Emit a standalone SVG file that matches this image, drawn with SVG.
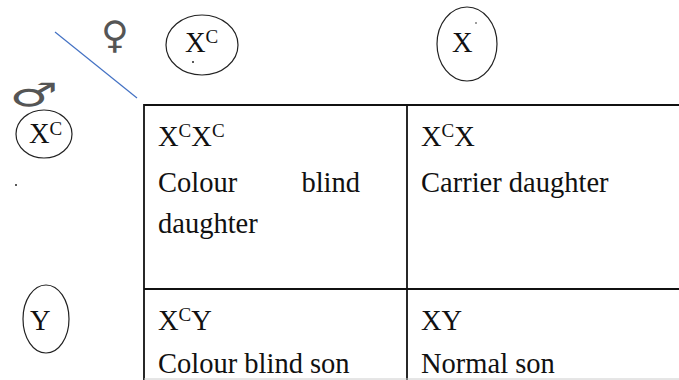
<svg xmlns="http://www.w3.org/2000/svg" width="679" height="380" viewBox="0 0 679 380">
<style>
.t{font-size:28.5px;fill:#111}
.s{font-size:19px}
.g{fill:none;stroke:#222;stroke-width:1.2}
.ln{stroke:#111;stroke-width:1.8;fill:none}
.sym{font-family:"DejaVu Sans",sans-serif;fill:#555}
</style>
<rect width="679" height="380" fill="#fff"/>
<g id="connectors">
<line x1="55" y1="32" x2="137" y2="98" stroke="#4472C4" stroke-width="1.2"/>
</g>
<g id="symbols">
<text class="sym" x="115" y="48" font-size="38" text-anchor="middle">♀</text>
<text class="sym" transform="translate(34,106) scale(1.5,0.9)" font-size="36" text-anchor="middle">♂</text>
</g>
<g font-family="Liberation Serif, DejaVu Serif, serif">
<g id="mother-Xc">
<ellipse class="g" cx="202" cy="45" rx="36" ry="30"/>
<text class="t" x="185" y="52">X<tspan class="s" dy="-9">C</tspan></text>
<circle cx="193" cy="62" r="1" fill="#222"/>
</g>
<g id="mother-X">
<ellipse class="g" cx="467" cy="44" rx="30" ry="37"/>
<text class="t" x="452" y="52">X</text>
<circle cx="476" cy="23" r="0.8" fill="#222"/>
</g>
<g id="father-Xc">
<ellipse class="g" cx="44" cy="134" rx="28" ry="24"/>
<text class="t" x="29" y="143">X<tspan class="s" dy="-8">C</tspan></text>
<circle cx="16" cy="185" r="1" fill="#222"/>
</g>
<g id="father-Y">
<ellipse class="g" cx="46" cy="319" rx="23" ry="34"/>
<text class="t" x="30" y="330">Y</text>
</g>
<g id="grid">
<line class="ln" x1="144" y1="105" x2="679" y2="105"/>
<line class="ln" x1="144" y1="289" x2="679" y2="289"/>
<line class="ln" x1="144" y1="104" x2="144" y2="380"/>
<line class="ln" x1="407" y1="104" x2="407" y2="380"/>
<line x1="144" y1="379" x2="679" y2="379" stroke="#ccc" stroke-width="1"/>
</g>
<g id="cell-XcXc">
<text class="t" x="158" y="146">X<tspan class="s" dy="-9">C</tspan><tspan dy="9">X</tspan><tspan class="s" dy="-9">C</tspan></text>
<text class="t" x="158" y="192">Colour</text>
<text class="t" x="360" y="192" text-anchor="end">blind</text>
<text class="t" x="158" y="233">daughter</text>
</g>
<g id="cell-XcX">
<text class="t" x="421" y="146">X<tspan class="s" dy="-9">C</tspan><tspan dy="9">X</tspan></text>
<text class="t" x="421" y="192">Carrier daughter</text>
</g>
<g id="cell-XcY">
<text class="t" x="158" y="330">X<tspan class="s" dy="-9">C</tspan><tspan dy="9">Y</tspan></text>
<text class="t" x="158" y="373">Colour blind son</text>
</g>
<g id="cell-XY">
<text class="t" x="421" y="330">XY</text>
<text class="t" x="421" y="373">Normal son</text>
</g>
</g>
</svg>
